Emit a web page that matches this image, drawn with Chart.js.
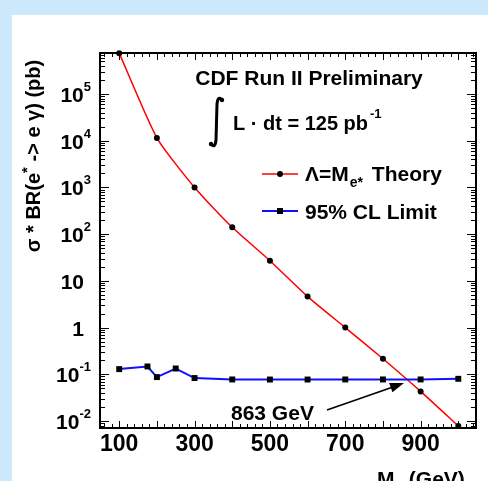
<!DOCTYPE html>
<html>
<head>
<meta charset="utf-8">
<script src="https://cdn.jsdelivr.net/npm/chart.js@4.4.1/dist/chart.umd.min.js"></script>
<style>
html, body { margin: 0; padding: 0; background: #cce9fb; overflow: hidden; }
#wrap { position: absolute; left: 0; top: 0; width: 488px; height: 481px; }
</style>
</head>
<body>
<div id="wrap"><canvas id="chart" width="488" height="481"></canvas></div>
<script>
// excited electron mass points (GeV) and cross sections (pb)
const massTheory = [100, 200, 300, 400, 500, 600, 700, 800, 900, 1000];
const xsecTheory = [7.5e5, 1.15e4, 1.0e3, 140, 27, 4.6, 1.0, 0.215, 0.043, 0.0078];

const massLimit = [100, 175, 200, 250, 300, 400, 500, 600, 700, 800, 900, 1000];
const xsecLimit = [0.129, 0.147, 0.087, 0.133, 0.083, 0.0775, 0.0772, 0.0772, 0.0775, 0.0775, 0.0775, 0.080];

const xTickLabels = [100, 300, 500, 700, 900];
const yTickExponents = [-2, -1, 0, 1, 2, 3, 4, 5];

const FONT = '"Liberation Sans", Arial, Helvetica, sans-serif';
function bold(px) { return 'bold ' + px + 'px ' + FONT; }

// draws runs of text (normal / sub / sup) starting at x on baseline y
function drawRuns(ctx, runs, x, y) {
    runs.forEach(r => {
        ctx.font = bold(r.size);
        ctx.fillText(r.t, x, y + (r.dy || 0));
        x += ctx.measureText(r.t).width + (r.gap || 0);
    });
    return x;
}
function runsWidth(ctx, runs) {
    let w = 0;
    runs.forEach(r => { ctx.font = bold(r.size); w += ctx.measureText(r.t).width + (r.gap || 0); });
    return w;
}

const decorPlugin = {
    id: 'decor',
    beforeDraw(chart) {
        const ctx = chart.ctx;
        ctx.save();
        ctx.fillStyle = '#cce9fb';
        ctx.fillRect(0, 0, chart.width, chart.height);
        ctx.fillStyle = '#ffffff';
        ctx.fillRect(12, 15, chart.width - 12, chart.height - 15);
        ctx.restore();
    },
    beforeDatasetsDraw(chart) {
        const ctx = chart.ctx;
        const a = chart.chartArea;
        const xs = chart.scales.x, ys = chart.scales.y;
        ctx.save();
        ctx.strokeStyle = '#000';
        ctx.lineWidth = 1;

        // x ticks, bottom and top, pointing inward
        for (let v = 60; v <= 1040; v += 20) {
            const px = Math.round(xs.getPixelForValue(v)) + 0.5;
            const len = (v % 100 === 0) ? 7 : 4;
            ctx.beginPath();
            ctx.moveTo(px, a.bottom); ctx.lineTo(px, a.bottom - len);
            ctx.moveTo(px, a.top); ctx.lineTo(px, a.top + len);
            ctx.stroke();
        }
        // y ticks, left and right
        for (let e = -3; e <= 5; e++) {
            for (let k = 1; k <= 9; k++) {
                const v = k * Math.pow(10, e);
                if (v < ys.min || v > ys.max) continue;
                const py = Math.round(ys.getPixelForValue(v)) + 0.5;
                const len = (k === 1) ? 9 : 5;
                ctx.beginPath();
                ctx.moveTo(a.left, py); ctx.lineTo(a.left + len, py);
                ctx.moveTo(a.right, py); ctx.lineTo(a.right - len, py);
                ctx.stroke();
            }
        }
        // frame
        ctx.lineWidth = 2;
        ctx.strokeRect(a.left, a.top, a.right - a.left, a.bottom - a.top);

        ctx.fillStyle = '#000';
        // x tick labels
        ctx.textAlign = 'center';
        ctx.textBaseline = 'middle';
        ctx.font = bold(23);
        xTickLabels.forEach(v => {
            ctx.fillText(String(v), xs.getPixelForValue(v), 445);
        });
        // y tick labels
        ctx.textAlign = 'left';
        ctx.textBaseline = 'alphabetic';
        yTickExponents.forEach(e => {
            const py = ys.getPixelForValue(Math.pow(10, e)) + 8;
            let runs;
            if (e === 0) runs = [{t: '1', size: 21}];
            else if (e === 1) runs = [{t: '10', size: 21}];
            else runs = [{t: '10', size: 21}, {t: String(e), size: 13, dy: -11}];
            const right = runs.length > 1 ? 91 : 84;
            drawRuns(ctx, runs, right - runsWidth(ctx, runs), py);
        });

        // y axis title (rotated)
        const yTitle = [
            {t: '\u03c3 * BR(e', size: 20},
            {t: '*', size: 15, dy: -8},
            {t: ' -> e \u03b3) (pb)', size: 20}
        ];
        ctx.save();
        ctx.translate(40, 156);
        ctx.rotate(-Math.PI / 2);
        drawRuns(ctx, yTitle, -runsWidth(ctx, yTitle) / 2, 0);
        ctx.restore();

        // x axis title
        drawRuns(ctx, [
            {t: 'M', size: 21, gap: 1},
            {t: 'e*', size: 12, dy: 5, gap: 2},
            {t: '(GeV)', size: 21}
        ], 377, 486);
        ctx.restore();
    },
    afterDatasetsDraw(chart) {
        const ctx = chart.ctx;
        ctx.save();
        ctx.fillStyle = '#000';
        ctx.textAlign = 'left';
        ctx.textBaseline = 'alphabetic';

        // header
        ctx.font = bold(21);
        ctx.textAlign = 'center';
        ctx.fillText('CDF Run II Preliminary', 309, 85);
        ctx.textAlign = 'left';

        // integral sign
        ctx.strokeStyle = '#000';
        ctx.lineWidth = 3;
        ctx.beginPath();
        ctx.moveTo(222, 100);
        ctx.quadraticCurveTo(218, 95, 217, 104);
        ctx.lineTo(216, 140);
        ctx.quadraticCurveTo(215, 149, 211, 144);
        ctx.stroke();
        ctx.beginPath(); ctx.arc(222, 100, 2.2, 0, Math.PI * 2); ctx.fill();
        ctx.beginPath(); ctx.arc(211, 144, 2.2, 0, Math.PI * 2); ctx.fill();

        drawRuns(ctx, [
            {t: 'L \u00b7 dt = 125 pb', size: 20, gap: 2},
            {t: '-1', size: 13, dy: -12}
        ], 233, 130);

        // legend
        ctx.lineWidth = 1.5;
        ctx.strokeStyle = '#ff0000';
        ctx.beginPath(); ctx.moveTo(262, 174); ctx.lineTo(298, 174); ctx.stroke();
        ctx.beginPath(); ctx.arc(280, 174, 3, 0, Math.PI * 2); ctx.fill();
        drawRuns(ctx, [
            {t: '\u039b=M', size: 21, gap: 1},
            {t: 'e*', size: 14, dy: 6, gap: 3},
            {t: ' Theory', size: 21}
        ], 305, 181);

        ctx.lineWidth = 2;
        ctx.strokeStyle = '#1010ff';
        ctx.beginPath(); ctx.moveTo(262, 211); ctx.lineTo(298, 211); ctx.stroke();
        ctx.fillRect(277, 208, 6, 6);
        drawRuns(ctx, [{t: '95% CL Limit', size: 21}], 305, 219);

        // crossing annotation
        drawRuns(ctx, [{t: '863 GeV', size: 21}], 231, 420);
        ctx.strokeStyle = '#000';
        ctx.lineWidth = 1.5;
        ctx.beginPath(); ctx.moveTo(327, 410); ctx.lineTo(393, 387); ctx.stroke();
        const ang = Math.atan2(383 - 410, 404 - 327);
        ctx.save();
        ctx.translate(404, 383);
        ctx.rotate(ang);
        ctx.beginPath();
        ctx.moveTo(0, 0); ctx.lineTo(-14, -5); ctx.lineTo(-14, 5); ctx.closePath();
        ctx.fill();
        ctx.restore();
        ctx.restore();
    }
};

new Chart(document.getElementById('chart').getContext('2d'), {
    type: 'line',
    data: {
        datasets: [{
            label: 'Theory',
            data: massTheory.map((m, i) => ({x: m, y: xsecTheory[i]})),
            borderColor: '#ff0000',
            borderWidth: 1.5,
            tension: 0.2,
            pointStyle: 'circle',
            pointRadius: 3,
            pointBackgroundColor: '#000',
            pointBorderColor: '#000',
            pointBorderWidth: 0,
            clip: false,
            order: 1
        }, {
            label: '95% CL Limit',
            data: massLimit.map((m, i) => ({x: m, y: xsecLimit[i]})),
            borderColor: '#1010ff',
            borderWidth: 2,
            pointStyle: 'rect',
            pointRadius: 4.2,
            pointBackgroundColor: '#000',
            pointBorderColor: '#000',
            pointBorderWidth: 0,
            clip: false,
            order: 0
        }]
    },
    options: {
        responsive: false,
        animation: false,
        layout: { padding: { left: 100, top: 53, right: 12, bottom: 53 } },
        plugins: { legend: { display: false }, tooltip: { enabled: false } },
        scales: {
            x: { type: 'linear', min: 49, max: 1047, display: false },
            y: { type: 'logarithmic', min: 0.00708, max: 7.55e5, display: false }
        }
    },
    plugins: [decorPlugin]
});
</script>
</body>
</html>
